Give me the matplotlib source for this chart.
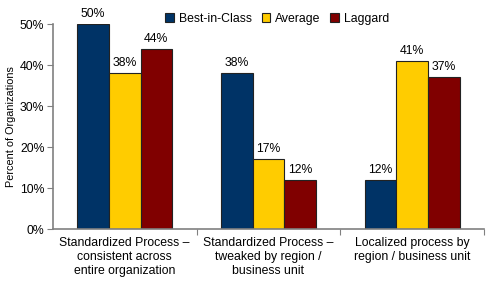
import numpy as np
import matplotlib
matplotlib.use("Agg")
import matplotlib.pyplot as plt

categories = ["Standardized Process \u2013\nconsistent across\nentire organization",
              "Standardized Process \u2013\ntweaked by region /\nbusiness unit",
              "Localized process by\nregion / business unit"]
series_names = ["Best-in-Class", "Average", "Laggard"]
best = [50, 38, 12]
average = [38, 17, 41]
laggard = [44, 12, 37]
colors = ["#003366", "#ffcc00", "#800000"]

plt.rcParams['font.family'] = ['Liberation Sans', 'DejaVu Sans']

fig = plt.figure(figsize=(4.89, 2.87), dpi=100)
ax = fig.add_axes([0.108, 0.202, 0.882, 0.714])

x = np.arange(len(categories))
w = 0.22
for i, (vals, name, c) in enumerate(zip([best, average, laggard], series_names, colors)):
    bars = ax.bar(x + (i - 1) * w, vals, w, color=c, edgecolor="#222222", linewidth=0.8, label=name)
    for b, v in zip(bars, vals):
        ax.text(b.get_x() + b.get_width() / 2, v + 1.0, f"{v}%", ha="center", va="bottom", fontsize=8.8)

ax.set_xlim(-0.5, 2.5)
ax.set_ylim(0, 50)
ax.set_yticks([0, 10, 20, 30, 40, 50])
ax.set_yticklabels([f"{t}%" for t in [0, 10, 20, 30, 40, 50]], fontsize=8.8)
ax.set_xticks([0.5, 1.5, 2.5])
ax.set_xticklabels([])
ax.set_xticks(x, minor=True)
ax.set_xticklabels(categories, minor=True, fontsize=8.8)
ax.tick_params(axis='x', which='minor', length=0, pad=6)
ax.tick_params(axis='x', which='major', length=4, color="#808080")
ax.tick_params(axis='y', length=4, color="#808080", pad=2)
ax.set_ylabel("Percent of Organizations", fontsize=7.8, labelpad=3)
for s in ["top", "right"]:
    ax.spines[s].set_visible(False)
for s in ["left", "bottom"]:
    ax.spines[s].set_color("#808080")
    ax.spines[s].set_linewidth(1.2)

ax.legend(loc="upper center", bbox_to_anchor=(0.52, 1.11), ncol=3, frameon=False,
          fontsize=8.8, handlelength=0.7, handleheight=0.7, handletextpad=0.4, columnspacing=0.8)

fig.savefig("out.png", dpi=100)
